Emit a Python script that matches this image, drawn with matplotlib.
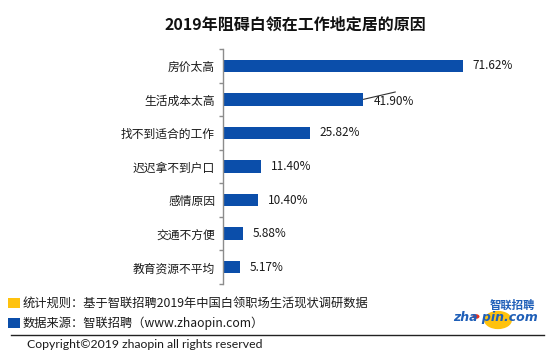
import matplotlib
matplotlib.use("Agg")
import matplotlib.pyplot as plt
from matplotlib.patches import Rectangle, Circle
from matplotlib.lines import Line2D

plt.rcParams['font.family'] = ['Noto Sans CJK SC', 'DejaVu Sans']

categories = ["房价太高", "生活成本太高", "找不到适合的工作", "迟迟拿不到户口",
              "感情原因", "交通不方便", "教育资源不平均"]
values = [71.62, 41.90, 25.82, 11.40, 10.40, 5.88, 5.17]
value_labels = ["71.62%", "41.90%", "25.82%", "11.40%", "10.40%", "5.88%", "5.17%"]

title = "2019年阻碍白领在工作地定居的原因"
note1 = "统计规则：基于智联招聘2019年中国白领职场生活现状调研数据"
note2 = "数据来源：智联招聘（www.zhaopin.com）"
copyright_text = "Copyright©2019 zhaopin all rights reserved"

W, H = 554, 361
fig = plt.figure(figsize=(W / 100, H / 100), dpi=100)
fig.patch.set_facecolor("white")

def fx(x):
    return x / W

def fy(y):
    return 1 - y / H

# axes in pixel geometry
ax_left, ax_right, ax_top, ax_bottom = 223, 523, 49, 284
ax = fig.add_axes([fx(ax_left), fy(ax_bottom), (ax_right - ax_left) / W, (ax_bottom - ax_top) / H])
px_per_unit = 240 / 71.62
ax.set_xlim(0, (ax_right - ax_left) / px_per_unit)
n = len(categories)
ax.set_ylim(n - 0.5, -0.5)

bar_color = "#0B4EAA"
pos = list(range(n))
ax.barh(pos, values, height=0.37, color=bar_color)

for sp in ["top", "right", "bottom"]:
    ax.spines[sp].set_visible(False)
ax.spines["left"].set_color("#8C8C8C")
ax.spines["left"].set_linewidth(1.0)
ax.set_xticks([])
ax.set_yticks(pos)
ax.set_yticklabels(categories, fontsize=8.5, color="#1a1a1a")
ax.tick_params(axis="y", which="major", length=0, pad=5.8)
ax.set_yticks([i - 0.5 for i in range(n + 1)], minor=True)
ax.tick_params(axis="y", which="minor", length=3, color="#8C8C8C", width=1.0)

for i, (v, lab) in enumerate(zip(values, value_labels)):
    if i == 1:
        # leader line label
        ax.annotate("", xy=(v, i), xytext=(v + 32 / px_per_unit, i - 0.22),
                    arrowprops=dict(arrowstyle="-", color="#333333", lw=0.8,
                                    shrinkA=0, shrinkB=0))
        ax.annotate(lab, xy=(v, i), xytext=(7.5, -1.5), textcoords="offset points",
                    va="center", ha="left", fontsize=8.5, color="#1a1a1a")
    else:
        ax.annotate(lab, xy=(v, i), xytext=(7, 0), textcoords="offset points",
                    va="center", ha="left", fontsize=8.5, color="#1a1a1a")

# title
fig.text(fx(295), fy(25), title, ha="center", va="center", fontsize=11.5,
         fontweight="bold", color="#111111")

# footer notes
fig.patches.append(Rectangle((fx(8), fy(308)), 12 / W, 10 / H, transform=fig.transFigure,
                             facecolor="#FFC20E", edgecolor="none"))
fig.text(fx(23), fy(304), note1, ha="left", va="center", fontsize=8.8, color="#1a1a1a")
fig.patches.append(Rectangle((fx(8), fy(328)), 12 / W, 10 / H, transform=fig.transFigure,
                             facecolor="#0B4EAA", edgecolor="none"))
fig.text(fx(23), fy(323), note2, ha="left", va="center", fontsize=8.8, color="#1a1a1a")

fig.lines.append(Line2D([fx(11), fx(544)], [fy(334.5), fy(334.5)], transform=fig.transFigure,
                        color="#222222", lw=1.0))
fig.text(fx(27), fy(345), copyright_text, ha="left", va="center", fontsize=8.8,
         family=["Lato", "DejaVu Sans"], color="#1a1a1a")

# logo
fig.patches.append(Circle((fx(498), fy(320)), 14 / W, transform=fig.transFigure,
                          facecolor="#FFC20E", edgecolor="none"))
fig.text(fx(512), fy(305), "智联招聘", ha="center", va="center", fontsize=8.2,
         fontweight="bold", style="italic", color="#1F5FB8")
fig.text(fx(495.5), fy(317.5), "zha pin.com", ha="center", va="center", fontsize=9,
         fontweight="bold", style="italic", color="#1F5FB8", family=["DejaVu Sans"])
fig.patches.append(Circle((fx(476), fy(316.5)), 3.5 / W, transform=fig.transFigure,
                          facecolor="#E8321E", edgecolor="none"))

fig.savefig("out.png", dpi=100, facecolor="white")
